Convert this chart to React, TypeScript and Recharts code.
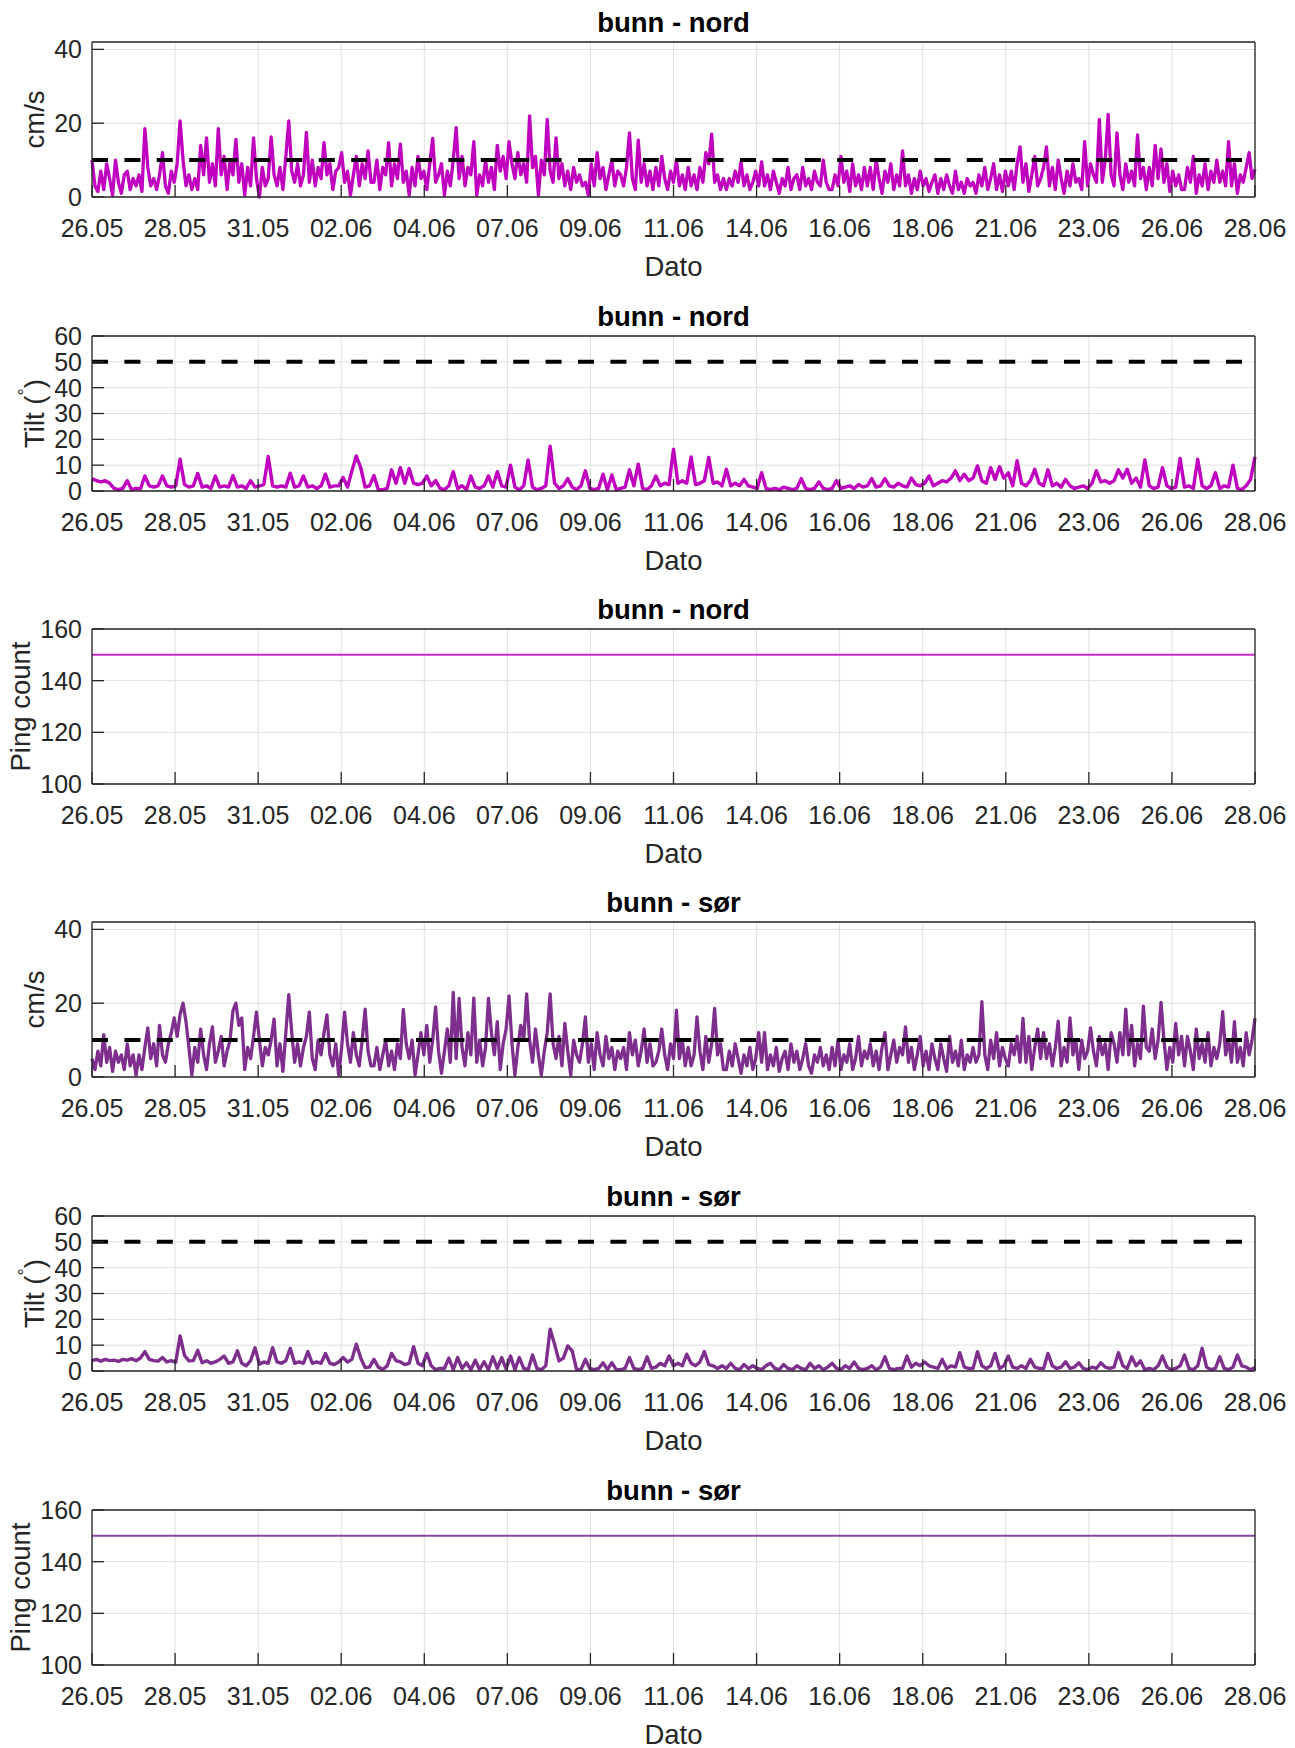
import React from "react";
import {
  LineChart,
  Line,
  XAxis,
  YAxis,
  CartesianGrid,
  ReferenceLine,
} from "recharts";

const FONT = '"Liberation Sans", Arial, Helvetica, sans-serif';
const AXIS_COLOR = "#262626";
const GRID_COLOR = "#dfdfdf";
const NORD_COLOR = "#bf00bf";
const SOR_COLOR = "#7e2f8e";

const X_TICK_LABELS = [
  "26.05", "28.05", "31.05", "02.06", "04.06", "07.06", "09.06", "11.06",
  "14.06", "16.06", "18.06", "21.06", "23.06", "26.06", "28.06",
];
const DAYS = 33;
const X_TICKS = X_TICK_LABELS.map((_, i) => (i * DAYS) / (X_TICK_LABELS.length - 1));

const SPEED_TICKS = [0, 20, 40];
const TILT_TICKS = [0, 10, 20, 30, 40, 50, 60];
const PING_TICKS = [100, 120, 140, 160];

// current speed, every 2 hours (12 per day), one row per day
const SPEED_NORD = [
  10, 3, 1.5, 7, 2, 9, 5, 0.5, 10, 4, 1, 6,
  7, 2, 5, 3, 6, 1.5, 18.5, 8, 3, 5, 2, 6,
  12, 3, 1, 7, 4, 9, 20.6, 10, 3, 6, 2, 5,
  2, 14, 6, 16, 4, 9, 3, 18.5, 6, 11, 2, 10,
  6, 15.6, 4, 9, 0.5, 8, 3, 16, 5, 0, 8, 3,
  5, 16.3, 6, 3, 8, 2, 11, 20.6, 7, 4, 9, 3,
  6, 17.5, 4, 10, 3, 8, 5, 14.7, 6, 9, 2, 7,
  8, 12, 4, 7, 0.5, 6, 11, 3, 9, 5, 12.5, 4,
  4, 10, 2, 8, 6, 14.7, 3, 9, 5, 14.3, 4, 7,
  0.5, 8, 3, 11, 5, 7, 2, 9, 15.9, 4, 6, 9,
  0.5, 7, 3, 10, 18.8, 5, 11, 3, 8, 6, 15, 0.5,
  6, 3, 10, 4, 8, 2, 14, 7, 11, 5, 15, 9,
  5, 12, 6, 9, 4, 22, 8, 11, 0.5, 10, 6, 21,
  7, 4, 16, 5, 9, 3, 7, 2, 8, 4, 6, 3,
  4, 0.5, 9, 3, 12, 5, 8, 2, 6, 10, 3, 7,
  6, 3, 8, 17.4, 5, 2, 15.4, 4, 9, 3, 7, 2,
  8, 3, 11, 5, 2, 7, 4, 10, 3, 6, 2, 8,
  3, 6, 2, 8, 4, 12, 9, 17, 4, 6, 2, 5,
  2, 5, 3, 7, 4, 9.5, 3, 6, 2, 4, 7, 3,
  9.5, 3, 6, 2, 7, 4, 1, 5, 3, 8, 2, 5,
  6, 2, 8, 3, 5, 2, 7, 4, 3, 10, 4, 2,
  2, 6, 3, 11, 4, 7, 1.5, 9, 3, 6, 2, 8,
  3, 8, 2, 10, 5, 1, 7, 4, 9, 2, 6, 3,
  12.5, 3, 6, 1, 5, 2, 7, 3, 5, 1.5, 4, 6,
  1, 5, 2, 6, 3, 1, 7, 2, 4, 1, 5, 3,
  4, 1, 6, 3, 8, 2, 5, 9, 2, 6, 1.5, 7,
  3, 7, 2, 9, 13.6, 4, 9, 1.5, 6, 11, 3, 5,
  8, 13.6, 3, 8, 2, 10, 5, 1, 7, 3, 9, 4,
  5, 2, 15, 3, 9, 6, 4, 21, 4, 10, 22.4, 6,
  3, 17.4, 6, 2, 9, 4, 7, 3, 16.8, 5, 8, 2,
  8, 3, 14, 5, 13, 4, 9, 1.5, 7, 3, 6, 2,
  2, 8, 4, 11, 1, 6, 3, 9, 2, 7, 4, 10,
  4, 7, 3, 15, 3, 9, 1, 6, 4, 8, 12, 5,
  7.5,
];

const SPEED_SOR = [
  5, 2, 7, 3, 11.5, 4, 8, 1.5, 7, 4, 6, 2,
  9, 3, 6, 0.5, 6, 2, 8, 13.3, 5, 9, 3, 14,
  6, 4, 9, 12, 16, 11, 17, 20, 15, 8, 0.5, 8,
  4, 13, 6, 2, 9, 13.6, 4, 7, 11, 3, 7, 10,
  18, 20, 14, 16, 2, 8, 5, 11, 17.6, 10, 3, 8,
  6, 10, 15.7, 3, 9, 1.5, 12, 22.3, 12, 4, 9, 3,
  8, 11, 17.6, 5, 2, 10, 6, 12, 16.8, 6, 3, 9,
  0.5, 8, 17.6, 9, 4, 12, 6, 3, 10, 18.4, 7, 3,
  3, 8, 2, 6, 10, 3, 7, 2, 9, 5, 18.3, 9,
  5, 10, 0.5, 6, 12, 6, 14, 4, 10, 19, 7, 1,
  7, 13, 4, 22.9, 5, 21.3, 8, 3, 12, 6, 21.4, 4,
  10, 3, 8, 21.3, 12, 6, 15, 2, 9, 13, 22, 9,
  0.5, 8, 14, 10, 22.5, 10, 4, 13, 6, 0.5, 7, 12,
  22.5, 9, 5, 11, 3, 14.5, 7, 0.5, 10, 6, 4, 9,
  16.3, 4, 9, 2, 12, 6, 3, 11, 5, 8, 2, 7,
  5, 8, 2, 12, 6, 10, 3, 7, 13, 4, 9, 3,
  4, 7, 13, 6, 2, 9, 5, 18.1, 5, 10, 3, 8,
  3, 6, 16.3, 7, 2, 11, 4, 9, 18.6, 6, 9, 2,
  2, 7, 3, 9, 5, 1, 6, 3, 8, 2, 5, 12,
  4, 12, 2, 6, 3, 8, 1.5, 5, 7, 2, 9, 4,
  7, 2, 5, 9, 3, 1, 6, 4, 8, 3, 6, 2,
  8, 3, 10, 2, 6, 4, 9, 2, 5, 11, 3, 7,
  5, 9, 3, 7, 2, 8, 12, 2, 6, 10, 4, 8,
  6, 13.6, 4, 8, 2, 6, 11, 3, 7, 2, 9, 5,
  2, 9, 5, 1.5, 11, 4, 7, 3, 10, 2, 6, 4,
  8, 4, 6, 20.4, 6, 2, 10, 5, 12, 3, 8, 5,
  3, 9, 6, 11, 4, 15.9, 4, 11, 2, 8, 13, 5,
  12, 5, 9, 3, 8, 15.1, 3, 8, 4, 16, 6, 10,
  2, 10, 5, 7, 13.3, 7, 3, 11, 6, 9, 2, 12,
  9, 4, 12, 6, 18.4, 6, 14, 3, 9, 5, 19.2, 8,
  7, 13, 5, 10, 20.2, 10, 2, 8, 4, 14.5, 6, 11,
  3, 11, 7, 2, 13, 5, 9, 4, 12, 3, 8, 5,
  9, 17.7, 6, 10, 4, 15, 4, 8, 3, 12, 6, 10,
  15.9,
];

// tilt, every 3 hours (8 per day), one row per day
const TILT_NORD = [
  4.8, 4, 3.5, 4, 3, 1, 0.5, 1,
  4, 0.5, 1, 0.8, 5.8, 2, 1.5, 2,
  5.8, 2, 1.5, 2, 12.3, 2.5, 1.5, 2,
  6.8, 1.5, 2, 1, 5.8, 1.5, 2, 1.5,
  6, 1.5, 2, 1, 4, 1.5, 2, 2.5,
  13.4, 2, 1.5, 2, 1.5, 6.9, 1.5, 2,
  5.8, 1.5, 2, 1, 2, 6.5, 1.5, 2,
  2, 5.2, 1.5, 7.8, 13.6, 9, 1.5, 2,
  6, 0.5, 0.5, 1, 8.2, 3, 9, 3,
  8.7, 3, 2.5, 3, 5.8, 2, 4, 1,
  0.5, 2, 7.5, 1, 2, 0.5, 5.8, 1.5,
  1, 2, 5.8, 1.5, 7.5, 2, 1.5, 10,
  1.5, 0.5, 2, 12, 1.5, 0.5, 1, 2,
  17.3, 3, 1, 2, 4.8, 1.5, 0.5, 2,
  7.8, 1, 0.5, 1, 6.5, 0.5, 6.2, 0.5,
  1, 1.5, 8.2, 2, 10.4, 1, 0.5, 2,
  5.8, 2, 3, 2.5, 16.2, 3, 4, 3,
  13.2, 2.5, 3, 4, 13, 3, 3.5, 2,
  8.4, 2, 3, 2, 4.5, 2, 1.5, 1,
  7.1, 1, 0.5, 1, 0.5, 1.5, 1, 0.5,
  1, 4.8, 1, 0.5, 1, 3.5, 1, 0.5,
  1, 4, 1, 1.5, 2, 1, 2.5, 1.5,
  2, 4.8, 1.5, 2, 4.8, 2, 1.5, 3,
  2, 1.5, 5, 2.5, 2, 3, 5.8, 2,
  3, 4, 3.5, 5, 7.8, 4, 6.5, 4,
  5, 9.7, 4, 3, 9, 4.5, 9.4, 5,
  7, 2, 11.7, 3, 2, 4, 8.4, 3,
  2, 8.2, 2, 3, 1.5, 4.5, 2, 1,
  1.5, 2, 1, 3, 7.8, 3.5, 4, 3,
  4, 8.2, 5, 8.4, 3, 5, 1.5, 12,
  2, 1, 1.5, 9, 2, 1, 1.5, 12.6,
  1.5, 2, 1, 12.3, 2, 1, 2, 7.1,
  1, 2, 1.5, 10, 1, 0.5, 2, 4.5,
  13.2,
];

const TILT_SOR = [
  4, 4.5, 3.8, 4.5, 4, 4.2, 3.7, 4.5,
  4.2, 4.8, 4, 5, 7.5, 4.5, 4, 3.8,
  5.2, 3.5, 4, 3.3, 13.6, 6, 3.9, 4,
  8, 3.2, 4, 3, 3.5, 4.5, 5.8, 3,
  3.5, 7.8, 3, 2, 4, 9, 2.6, 3.5,
  3, 9, 3.5, 3, 4, 8.8, 3, 3.5,
  3, 7.5, 3, 3.5, 3, 6.8, 3, 2.5,
  3.5, 5.2, 3.5, 4.5, 10.4, 5, 1.3, 1.5,
  4.5, 1.5, 0.6, 2, 6.8, 4, 3.5, 2.5,
  3, 9.4, 3, 2, 6.8, 2, 0.5, 1,
  1, 5, 0.5, 5.2, 1, 3.2, 0.5, 4.2,
  0.5, 3.6, 0.5, 5.5, 1, 5.2, 0.8, 5.8,
  0.5, 5.2, 1, 0.5, 6.2, 1, 0.5, 2,
  16.2, 10.4, 3.9, 5, 9.7, 7.8, 0.6, 0.6,
  4.5, 1, 0.5, 1, 3.2, 0.5, 3.2, 0.5,
  0.5, 1, 5.2, 1, 0.5, 1, 5.5, 1,
  1.5, 3, 2, 5.8, 2, 3, 2, 6.5,
  3, 2, 3.5, 7.5, 2.5, 2, 1, 2,
  1, 3, 1, 0.5, 2.5, 1, 2, 1,
  0.5, 2, 3, 1, 0.5, 2.5, 1, 0.5,
  2, 1, 0.5, 3, 1, 2, 0.5, 1.5,
  3, 1, 0.5, 2, 1, 3.5, 1, 0.5,
  1, 2, 0.5, 1.5, 5.5, 1, 0.5, 1,
  1, 5.8, 1.5, 3, 2, 3.5, 2, 1.5,
  1, 4.5, 1, 2, 1.5, 7.1, 1.5, 1,
  1, 7.5, 2, 1, 2, 6.8, 1, 2,
  5.8, 1.5, 1, 2, 1, 4.5, 1.5, 1,
  1, 6.8, 2, 1, 1.5, 3.6, 1, 1.5,
  3.2, 1, 0.5, 1.5, 1, 3.2, 1.5, 1,
  1.5, 7.1, 2, 1, 5.5, 2, 3.9, 0.5,
  1, 0.5, 2, 5.8, 1.5, 0.5, 1, 2,
  6.2, 1, 0.5, 2, 8.8, 1.5, 0.5, 1,
  5.5, 1, 0.5, 1.5, 6.2, 2, 1.5, 0.5,
  1.3,
];

// ping count, daily
const PING_NORD = [
  150, 150, 150, 150, 150, 150, 150, 150, 150, 150, 150, 150,
  150, 150, 150, 150, 150, 150, 150, 150, 150, 150, 150, 150,
  150, 150, 150, 150, 150, 150, 150, 150, 150, 150,
];
const PING_SOR = [
  150, 150, 150, 150, 150, 150, 150, 150, 150, 150, 150, 150,
  150, 150, 150, 150, 150, 150, 150, 150, 150, 150, 150, 150,
  150, 150, 150, 150, 150, 150, 150, 150, 150, 150,
];

const toRows = (values: number[], step: number) =>
  values.map((v, i) => ({ t: i * step, v }));

const PLOT_TOPS = [42, 336, 629, 922, 1216, 1510];
const CHART_W = 1295;
const CHART_H = 290;
const MARGIN = { top: 41, right: 39, bottom: 43, left: 32 };

interface PanelConfig {
  title: string;
  ylabel: "speed" | "tilt" | "ping";
  rows: { t: number; v: number }[];
  color: string;
  strokeWidth: number;
  domain: [number, number];
  ticks: number[];
  threshold?: number;
}

const PANELS: PanelConfig[] = [
  { title: "bunn - nord", ylabel: "speed", rows: toRows(SPEED_NORD, 1 / 12), color: NORD_COLOR, strokeWidth: 3.3, domain: [0, 42], ticks: SPEED_TICKS, threshold: 10 },
  { title: "bunn - nord", ylabel: "tilt", rows: toRows(TILT_NORD, 1 / 8), color: NORD_COLOR, strokeWidth: 3.4, domain: [0, 60], ticks: TILT_TICKS, threshold: 50 },
  { title: "bunn - nord", ylabel: "ping", rows: toRows(PING_NORD, 1), color: "#c62cc6", strokeWidth: 2, domain: [100, 160], ticks: PING_TICKS },
  { title: "bunn - sør", ylabel: "speed", rows: toRows(SPEED_SOR, 1 / 12), color: SOR_COLOR, strokeWidth: 3.3, domain: [0, 42], ticks: SPEED_TICKS, threshold: 10 },
  { title: "bunn - sør", ylabel: "tilt", rows: toRows(TILT_SOR, 1 / 8), color: SOR_COLOR, strokeWidth: 3.4, domain: [0, 60], ticks: TILT_TICKS, threshold: 50 },
  { title: "bunn - sør", ylabel: "ping", rows: toRows(PING_SOR, 1), color: "#8a45a0", strokeWidth: 2, domain: [100, 160], ticks: PING_TICKS },
];

const tickStyle = { fill: AXIS_COLOR, fontSize: 25, fontFamily: FONT };
const lineStyle = { stroke: AXIS_COLOR, strokeWidth: 1.3 };

function YLabel({ viewBox, kind }: any) {
  if (!viewBox) return null;
  const right = viewBox.x + viewBox.width;
  const cy = viewBox.y + viewBox.height / 2;
  const bx = right - (kind === "ping" ? 62 : 48.5);
  const common = {
    x: bx,
    y: cy,
    transform: `rotate(-90 ${bx} ${cy})`,
    textAnchor: "middle" as const,
    fill: AXIS_COLOR,
    fontSize: 27.5,
    fontFamily: FONT,
  };
  if (kind === "tilt") {
    return (
      <text {...common}>
        Tilt (
        <tspan dy={-13} fontSize={18}>°</tspan>
        <tspan dy={13}>)</tspan>
      </text>
    );
  }
  return <text {...common}>{kind === "ping" ? "Ping count" : "cm/s"}</text>;
}

function Panel({ cfg, plotTop }: { cfg: PanelConfig; plotTop: number }) {
  return (
    <div style={{ position: "absolute", left: 0, top: plotTop - 42 }}>
      <LineChart width={CHART_W} height={CHART_H} data={cfg.rows} margin={MARGIN}>
        <CartesianGrid stroke={GRID_COLOR} strokeWidth={1} />
        <XAxis
          dataKey="t"
          type="number"
          domain={[0, DAYS]}
          ticks={X_TICKS}
          interval={0}
          tickFormatter={(_v: number, i: number) => X_TICK_LABELS[i]}
          height={50}
          tickSize={-12}
          tickMargin={34}
          tick={tickStyle}
          axisLine={lineStyle}
          tickLine={lineStyle}
          label={(p: any) =>
            p.viewBox ? (
              <text
                x={p.viewBox.x + p.viewBox.width / 2}
                y={p.viewBox.y + 79}
                textAnchor="middle"
                fill={AXIS_COLOR}
                fontSize={27.5}
                fontFamily={FONT}
              >
                Dato
              </text>
            ) : null
          }
        />
        <XAxis
          xAxisId="top"
          orientation="top"
          dataKey="t"
          type="number"
          domain={[0, DAYS]}
          ticks={X_TICKS}
          interval={0}
          height={1}
          tickSize={-12}
          tick={false}
          axisLine={lineStyle}
          tickLine={lineStyle}
          label={(p: any) =>
            p.viewBox ? (
              <text
                x={p.viewBox.x + p.viewBox.width / 2}
                y={p.viewBox.y + p.viewBox.height - 10.5}
                textAnchor="middle"
                fill="#000"
                fontSize={27.5}
                fontWeight="bold"
                fontFamily={FONT}
              >
                {cfg.title}
              </text>
            ) : null
          }
        />
        <YAxis
          type="number"
          domain={cfg.domain}
          ticks={cfg.ticks}
          interval={0}
          width={60}
          tickSize={-12}
          tickMargin={22}
          tick={tickStyle}
          axisLine={lineStyle}
          tickLine={lineStyle}
          label={(p: any) => <YLabel viewBox={p.viewBox} kind={cfg.ylabel} />}
        />
        <YAxis
          yAxisId="right"
          orientation="right"
          type="number"
          domain={cfg.domain}
          ticks={cfg.ticks}
          interval={0}
          width={1}
          tickSize={-12}
          tick={false}
          axisLine={lineStyle}
          tickLine={lineStyle}
        />
        <Line
          type="linear"
          dataKey="v"
          stroke={cfg.color}
          strokeWidth={cfg.strokeWidth}
          strokeLinejoin="round"
          dot={false}
          activeDot={false}
          isAnimationActive={false}
        />
        {cfg.threshold !== undefined && (
          <ReferenceLine
            y={cfg.threshold}
            stroke="#000"
            strokeWidth={4}
            strokeDasharray="16 16.4"
          />
        )}
      </LineChart>
    </div>
  );
}

export default function App() {
  return (
    <div style={{ position: "relative", width: CHART_W, height: 1748, background: "#fff", fontFamily: FONT }}>
      <style>{"body{margin:0;background:#fff}"}</style>
      {PANELS.map((cfg, i) => (
        <Panel key={i} cfg={cfg} plotTop={PLOT_TOPS[i]} />
      ))}
    </div>
  );
}
